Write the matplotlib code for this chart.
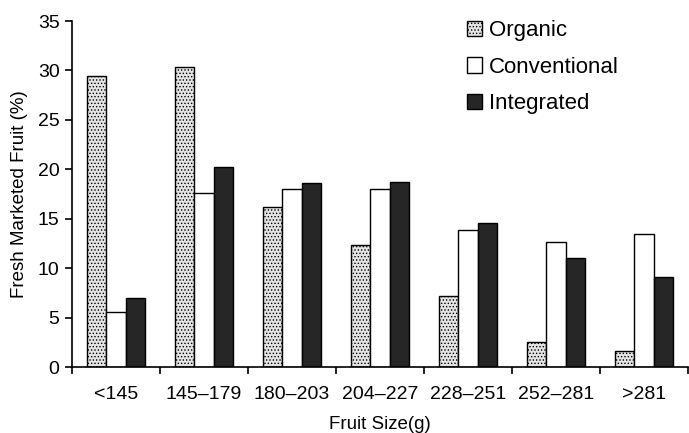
import numpy as np
import matplotlib
matplotlib.use('Agg')
import matplotlib.pyplot as plt

plt.rcParams['font.family'] = ['Liberation Sans', 'DejaVu Sans']
plt.rcParams['hatch.linewidth'] = 0.6

# 果实大小分组
categories = ['<145', '145\u2013179', '180\u2013203', '204\u2013227', '228\u2013251', '252\u2013281', '>281']
organic = [29.4, 30.3, 16.2, 12.3, 7.2, 2.5, 1.6]
conventional = [5.6, 17.6, 18.0, 18.0, 13.9, 12.6, 13.5]
integrated = [7.0, 20.2, 18.6, 18.7, 14.6, 11.0, 9.1]
series_names = ['Organic', 'Conventional', 'Integrated']

fig = plt.figure(figsize=(6.89, 4.33), dpi=100)
ax = fig.add_axes([0.1045, 0.1524, 0.8940, 0.7991])

x = np.arange(len(categories))
w = 0.22
ax.bar(x - w, organic, w, color='#e4e4e4', edgecolor='black', hatch='.....', linewidth=1.0, label=series_names[0])
ax.bar(x, conventional, w, color='white', edgecolor='black', linewidth=1.0, label=series_names[1])
ax.bar(x + w, integrated, w, color='#262626', edgecolor='black', linewidth=1.0, label=series_names[2])

ax.set_xlim(-0.5, len(categories) - 0.5)
ax.set_ylim(0, 35)
ax.set_yticks(range(0, 36, 5))

# 刻度在分组之间，标签在分组中间
ax.set_xticks(np.arange(len(categories) + 1) - 0.5)
ax.set_xticklabels([])
ax.set_xticks(x, minor=True)
ax.set_xticklabels(categories, minor=True)
ax.tick_params(axis='x', which='minor', length=0, pad=14, labelsize=14)
ax.tick_params(axis='x', which='major', length=5, width=1.2, direction='out')
ax.tick_params(axis='y', length=5, width=1.2, labelsize=14, pad=4)

for s in ['top', 'right']:
    ax.spines[s].set_visible(False)
for s in ['left', 'bottom']:
    ax.spines[s].set_linewidth(1.2)

ax.set_xlabel('Fruit Size(g)', fontsize=13.5, labelpad=9)
ax.set_ylabel('Fresh Marketed Fruit (%)', fontsize=13.5, labelpad=7)

ax.legend(loc='upper right', bbox_to_anchor=(0.92, 1.06), frameon=False, fontsize=16,
          handlelength=0.7, handleheight=0.7, handletextpad=0.3, labelspacing=0.7)

plt.savefig('out.png', dpi=100)
